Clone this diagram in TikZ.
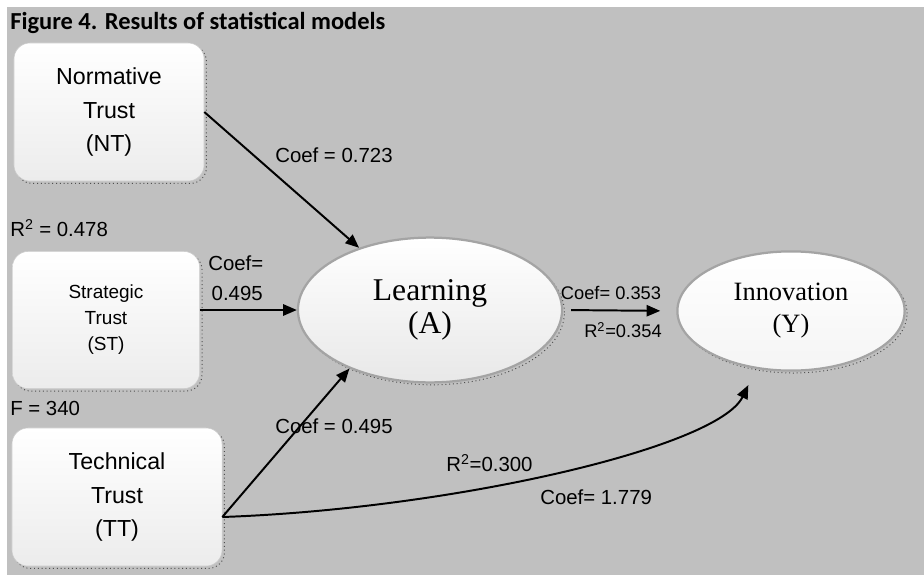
\documentclass[tikz,border=0pt]{standalone}
\usepackage{fontspec}
\setmainfont{Liberation Sans}
\newfontfamily\serifface{Liberation Serif}
\newfontfamily\captionface{Carlito}
\usetikzlibrary{shapes.geometric,arrows.meta}
\definecolor{panelgray}{HTML}{C0C0C0}
\definecolor{edgegray}{HTML}{A4A4A4}
\definecolor{shadowgray}{HTML}{505050}

\begin{document}
\begin{tikzpicture}[x=0.025cm,y=0.025cm,
  trustbox/.style={rectangle, rounded corners=0.4cm, draw=gray!40, top color=white, bottom color=gray!15,
    align=center, inner sep=0,
    preaction={draw=shadowgray, dotted, line width=0.7pt, transform canvas={xshift=0.06cm,yshift=-0.06cm}}},
  factor/.style={ellipse, draw=edgegray, line width=1.6pt, top color=white, bottom color=gray!18,
    align=center, inner sep=0, font=\serifface,
    preaction={draw=shadowgray, dotted, line width=0.7pt, transform canvas={xshift=0.06cm,yshift=-0.06cm}}},
  arr/.style={-{Triangle[length=0.34cm,width=0.28cm]}, line width=1.4pt},
  coef/.style={inner sep=0, font=\fontsize{14.5}{21}\selectfont}]

  \useasboundingbox (0,0) rectangle (924,575);
  \fill[panelgray] (7,0) rectangle (924,568);

  %% title
  \node[anchor=base west, inner sep=0, font=\fontsize{17.4}{20}\selectfont\captionface\bfseries] (title) at (10,545)
    {Figure 4. Results of statistical models};

  %% trust boxes
  \node[trustbox, minimum width=4.75cm, minimum height=3.45cm, font=\fontsize{16.5}{24}\selectfont] (nt) at (109,463)
    {Normative\\Trust\\(NT)};
  \node[trustbox, minimum width=4.68cm, minimum height=3.43cm, font=\fontsize{13.5}{18.5}\selectfont] (st) at (106,255)
    {Strategic\\Trust\\(ST)};
  \node[trustbox, minimum width=5.25cm, minimum height=3.45cm, font=\fontsize{16.5}{23.5}\selectfont] (tt) at (117,78)
    {Technical\\Trust\\(TT)};

  %% latent factors
  \node[factor, minimum width=6.6cm, minimum height=3.62cm, font=\fontsize{22.5}{23.5}\selectfont\serifface] (lrn) at (430,265)
    {Learning\\(A)};
  \node[factor, minimum width=5.68cm, minimum height=2.98cm, bottom color=gray!8, font=\fontsize{18.8}{22.8}\selectfont\serifface] (inv) at (791,264)
    {Innovation\\(Y)};

  \coordinate (ttout) at ([yshift=-0.5cm]tt.east);

  %% paths
  \draw[arr] (nt.east) -- (lrn);
  \draw[arr] (st.east |- lrn.west) -- (lrn.west);
  \draw[arr] (ttout) -- (lrn.216);
  \draw[arr, shorten <=0.2cm, shorten >=0.4cm] (lrn.east) -- (inv.west);
  \draw[arr, shorten >=0.45cm] (ttout) to[out=2, in=244, out distance=5.7cm, in distance=2.2cm] (inv.239);

  %% estimates
  \node[coef, anchor=west] (cnt) at (275,420) {Coef = 0.723};
  \node[coef, anchor=west] (rsq) at (10,347) {R\textsuperscript{2} = 0.478};
  \node[coef, anchor=west, align=left] (cst) at (208,297) {Coef=\\\,0.495};
  \node[coef, anchor=west] (fval) at (10,167) {F = 340};
  \node[coef, anchor=west] (ctt) at (275,149) {Coef = 0.495};
  \node[coef, font=\fontsize{13}{15}\selectfont] (cli) at (611,282) {Coef= 0.353};
  \node[coef, anchor=east, font=\fontsize{13}{15}\selectfont] (rli) at (662,245) {R\textsuperscript{2}=0.354};
  \node[coef, anchor=west] (rti) at (446,112) {R\textsuperscript{2}=0.300};
  \node[coef, anchor=west] (cti) at (540,78) {Coef= 1.779};

\end{tikzpicture}
\end{document}
